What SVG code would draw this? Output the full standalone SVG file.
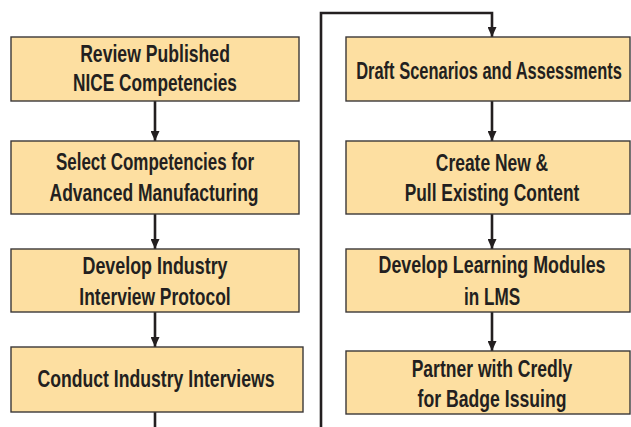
<svg xmlns="http://www.w3.org/2000/svg" width="631" height="427" viewBox="0 0 631 427">
  <style>
    .box { fill: #fddfa1; stroke: #3b3838; stroke-width: 1.4; }
    .lbl { font-family: "Liberation Sans", Arial, sans-serif; font-weight: bold; font-size: 23px; fill: #231f20; text-anchor: middle; }
    .wire { fill: none; stroke: #231f20; stroke-width: 2.6; }
  </style>
  <defs>
    <marker id="head" markerUnits="userSpaceOnUse" markerWidth="10" markerHeight="9" refX="10" refY="4.5" orient="auto">
      <path d="M0,0 L10,4.5 L0,9 Z" fill="#231f20"/>
    </marker>
  </defs>
  <rect width="631" height="427" fill="#ffffff"/>

  <g id="connectors">
    <path class="wire" d="M155,101 V141" marker-end="url(#head)"/>
    <path class="wire" d="M155,214 V249" marker-end="url(#head)"/>
    <path class="wire" d="M155,312 V347" marker-end="url(#head)"/>
    <path class="wire" d="M155,412 V427"/>
    <path class="wire" d="M321,427 V13 H492 V37" marker-end="url(#head)"/>
    <path class="wire" d="M492,101 V141" marker-end="url(#head)"/>
    <path class="wire" d="M492,214 V249" marker-end="url(#head)"/>
    <path class="wire" d="M492,312 V351" marker-end="url(#head)"/>
  </g>

  <!-- labels are set in a condensed cut: each line is squeezed horizontally -->
  <g id="review-published">
    <rect class="box" x="11" y="37" width="288" height="64"/>
    <text class="lbl" transform="translate(155 61.5) scale(0.78 1)" textLength="192" lengthAdjust="spacingAndGlyphs">Review Published</text>
    <text class="lbl" transform="translate(155 91) scale(0.78 1)" textLength="210" lengthAdjust="spacingAndGlyphs">NICE Competencies</text>
  </g>

  <g id="select-competencies">
    <rect class="box" x="11" y="141" width="288" height="73"/>
    <text class="lbl" transform="translate(155 170) scale(0.78 1)" textLength="254" lengthAdjust="spacingAndGlyphs">Select Competencies for</text>
    <text class="lbl" transform="translate(154 201) scale(0.78 1)" textLength="268" lengthAdjust="spacingAndGlyphs">Advanced Manufacturing</text>
  </g>

  <g id="interview-protocol">
    <rect class="box" x="11" y="249" width="288" height="63"/>
    <text class="lbl" transform="translate(155 274) scale(0.78 1)" textLength="186" lengthAdjust="spacingAndGlyphs">Develop Industry</text>
    <text class="lbl" transform="translate(155 305) scale(0.78 1)" textLength="194" lengthAdjust="spacingAndGlyphs">Interview Protocol</text>
  </g>

  <g id="conduct-interviews">
    <rect class="box" x="11" y="347" width="292" height="65"/>
    <text class="lbl" transform="translate(156 387) scale(0.78 1)" textLength="304" lengthAdjust="spacingAndGlyphs">Conduct Industry Interviews</text>
  </g>

  <g id="draft-scenarios">
    <rect class="box" x="346" y="37" width="284" height="64"/>
    <text class="lbl" transform="translate(489 79) scale(0.72 1)" textLength="369" lengthAdjust="spacingAndGlyphs">Draft Scenarios and Assessments</text>
  </g>

  <g id="create-content">
    <rect class="box" x="346" y="141" width="284" height="73"/>
    <text class="lbl" transform="translate(492 171) scale(0.78 1)" textLength="144" lengthAdjust="spacingAndGlyphs">Create New &amp;</text>
    <text class="lbl" transform="translate(492 201) scale(0.78 1)" textLength="224" lengthAdjust="spacingAndGlyphs">Pull Existing Content</text>
  </g>

  <g id="learning-modules">
    <rect class="box" x="346" y="249" width="284" height="63"/>
    <text class="lbl" transform="translate(492 273) scale(0.78 1)" textLength="291" lengthAdjust="spacingAndGlyphs">Develop Learning Modules</text>
    <text class="lbl" transform="translate(492 305) scale(0.78 1)" textLength="72" lengthAdjust="spacingAndGlyphs">in LMS</text>
  </g>

  <g id="credly-badges">
    <rect class="box" x="346" y="351" width="284" height="63"/>
    <text class="lbl" transform="translate(492 377) scale(0.78 1)" textLength="206" lengthAdjust="spacingAndGlyphs">Partner with Credly</text>
    <text class="lbl" transform="translate(492 407) scale(0.78 1)" textLength="191" lengthAdjust="spacingAndGlyphs">for Badge Issuing</text>
  </g>
</svg>
